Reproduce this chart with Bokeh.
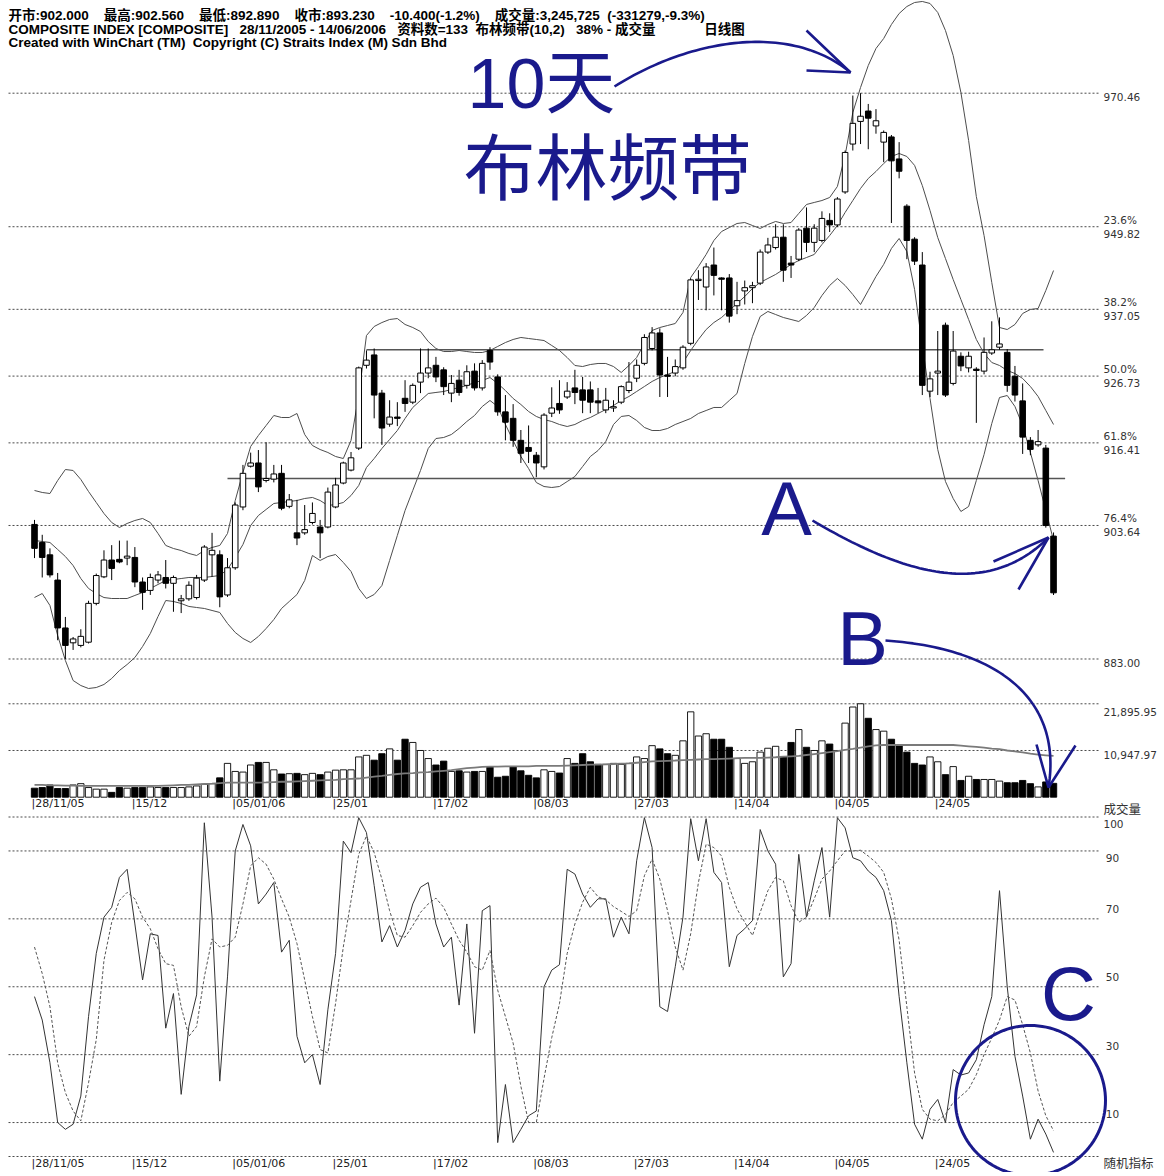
import math
from bokeh.plotting import figure
from bokeh.models import Range1d
from bokeh.core.properties import value
from bokeh.embed import file_html
from bokeh.resources import INLINE

# ---------------- data ----------------
tick_idx = [0, 13, 26, 39, 52, 65, 78, 91, 104, 117]
tick_labels = ["28/11/05", "15/12", "05/01/06", "25/01", "17/02", "08/03",
               "27/03", "14/04", "04/05", "24/05"]

opens = [903.8, 901.0, 899.1, 895.2, 887.8, 885.5, 885.1, 885.6, 891.6, 895.7,
         898.3, 898.4, 898.6, 898.7, 894.9, 893.6, 895.2, 895.6, 894.7, 892.0,
         892.3, 892.5, 895.2, 899.1, 899.1, 892.9, 897.1, 906.5, 912.8, 913.3,
         910.6, 910.8, 911.7, 906.6, 902.5, 902.5, 904.1, 903.4, 903.4, 906.5,
         910.2, 912.2, 915.6, 928.4, 930.0, 924.1, 919.3, 920.4, 923.3, 922.7,
         925.8, 927.2, 928.4, 927.7, 924.1, 926.1, 925.3, 927.5, 924.9, 930.7,
         926.6, 921.2, 920.2, 916.8, 915.7, 914.5, 912.7, 921.0, 922.5, 923.5,
         924.9, 924.6, 924.6, 922.9, 921.5, 921.8, 922.7, 924.5, 926.4, 928.7,
         931.0, 933.4, 926.9, 927.2, 928.0, 931.8, 941.5, 940.5, 943.9, 941.9,
         941.9, 937.6, 939.9, 940.4, 941.1, 945.9, 946.6, 948.2, 944.2, 944.8,
         949.6, 947.4, 947.7, 950.8, 950.1, 955.2, 962.6, 966.1, 967.7, 965.4,
         962.9, 963.7, 960.3, 953.0, 947.9, 943.9, 924.4, 927.2, 934.6, 925.6,
         929.8, 928.0, 927.8, 927.5, 930.3, 931.2, 930.4, 926.7, 922.9, 916.8,
         916.1, 915.6, 902.0]
highs = [904.5, 902.2, 900.1, 896.3, 889.5, 886.4, 887.6, 892.0, 896.2, 899.8,
         900.6, 901.3, 901.3, 900.3, 895.6, 896.2, 896.6, 898.3, 895.9, 892.9,
         895.0, 896.0, 900.6, 902.5, 899.8, 898.6, 907.2, 913.0, 914.9, 915.3,
         916.5, 913.0, 913.0, 908.5, 907.6, 906.8, 907.2, 904.5, 909.5, 911.0,
         913.5, 915.0, 928.2, 930.7, 931.0, 924.6, 923.0, 922.7, 926.1, 925.6,
         931.0, 931.0, 929.7, 928.1, 926.9, 927.7, 928.4, 928.7, 929.2, 931.2,
         927.0, 923.8, 922.4, 918.4, 919.1, 915.0, 921.0, 925.0, 926.1, 925.8,
         927.7, 926.6, 925.9, 924.9, 924.9, 923.0, 925.3, 928.9, 929.3, 933.2,
         934.3, 934.1, 929.7, 929.3, 931.5, 941.8, 943.1, 944.2, 946.6, 942.0,
         942.5, 941.3, 941.5, 941.3, 946.3, 948.1, 950.2, 950.2, 945.3, 949.6,
         952.8, 950.2, 952.2, 951.9, 954.4, 961.6, 970.1, 970.46, 968.8, 968.0,
         964.7, 964.0, 962.9, 953.3, 948.2, 945.9, 927.4, 933.7, 935.0, 933.7,
         930.4, 930.5, 928.1, 932.7, 935.2, 935.8, 930.9, 928.3, 925.6, 917.3,
         918.4, 916.1, 902.56]
lows = [898.6, 895.6, 895.6, 885.9, 883.0, 884.4, 884.8, 885.4, 891.3, 895.5,
        895.2, 897.8, 897.5, 894.1, 890.6, 892.9, 894.7, 893.9, 890.3, 890.1,
        892.0, 892.2, 894.9, 895.7, 891.0, 892.6, 896.8, 906.0, 912.6, 908.8,
        910.3, 910.3, 906.0, 906.3, 900.6, 902.2, 903.8, 898.6, 903.2, 906.3,
        910.0, 912.0, 915.3, 927.9, 920.2, 916.1, 918.9, 919.0, 921.2, 922.4,
        924.1, 926.4, 925.8, 923.8, 922.7, 923.7, 924.8, 924.5, 924.5, 927.7,
        920.6, 916.8, 915.8, 913.3, 913.3, 911.1, 912.3, 920.4, 920.9, 923.2,
        922.4, 921.0, 921.0, 921.0, 921.0, 921.2, 922.4, 924.1, 925.8, 928.4,
        930.7, 923.5, 923.5, 926.7, 927.7, 931.5, 938.5, 936.9, 939.2, 936.9,
        935.0, 936.3, 937.8, 938.0, 940.8, 945.6, 946.3, 941.3, 941.9, 944.5,
        945.9, 945.9, 947.4, 949.0, 949.8, 954.9, 961.6, 962.6, 961.8, 964.2,
        959.8, 950.4, 957.3, 944.8, 943.9, 923.8, 923.5, 923.8, 923.5, 925.3,
        927.5, 927.3, 919.5, 927.0, 930.0, 930.8, 924.3, 922.8, 914.7, 914.5,
        915.8, 903.3, 892.89]
closes = [900.1, 898.7, 896.0, 887.8, 885.1, 886.1, 886.5, 891.6, 895.9, 898.3,
          897.0, 898.0, 898.9, 894.9, 893.3, 895.6, 896.0, 894.7, 895.6, 892.3,
          894.4, 895.5, 900.3, 899.8, 892.6, 897.1, 906.8, 911.7, 913.3, 909.6,
          910.9, 911.6, 906.3, 907.6, 901.7, 903.0, 905.5, 902.5, 908.8, 909.9,
          913.3, 914.1, 928.0, 929.2, 923.8, 918.7, 920.4, 920.2, 922.5, 925.3,
          927.2, 928.0, 926.6, 925.1, 925.6, 924.2, 927.4, 924.9, 928.7, 928.9,
          921.2, 919.6, 916.8, 914.8, 915.1, 913.3, 920.7, 921.8, 921.5, 924.4,
          924.2, 923.0, 922.7, 922.6, 923.0, 922.0, 925.1, 925.8, 928.4, 932.7,
          933.4, 926.9, 926.7, 928.2, 931.2, 941.6, 941.7, 943.6, 942.3, 941.7,
          936.0, 938.4, 940.4, 940.7, 945.9, 947.0, 948.2, 943.1, 943.9, 949.3,
          947.4, 949.6, 951.1, 950.1, 954.1, 961.3, 965.8, 966.9, 966.6, 966.2,
          964.4, 960.0, 958.4, 947.7, 944.5, 925.3, 926.3, 927.5, 923.8, 930.6,
          928.3, 929.8, 927.6, 930.4, 930.8, 931.7, 925.3, 923.8, 917.3, 915.4,
          916.6, 903.63, 893.23]

volume = [2114, 2265, 2869, 2039, 2039, 2869, 3171, 2265, 1888, 1888,
          1133, 2265, 2114, 2265, 2265, 2416, 2265, 2265, 2265, 2265,
          2416, 2643, 3020, 3171, 4530, 7928, 6040, 5889, 7550, 8154,
          8154, 6418, 5436, 5512, 5587, 5285, 5587, 5285, 5889, 6342,
          6418, 6418, 9438, 9815, 8683, 10193, 11325, 8683, 13590, 12835,
          10948, 9060, 7550, 8456, 6040, 6191, 5889, 6040, 6040, 7173,
          4681, 4908, 7173, 6191, 5134, 4530, 6418, 6040, 5663, 9060,
          7928, 10193, 8305, 7701, 7701, 7928, 7701, 7928, 9438, 9060,
          12080, 11325, 10193, 9815, 13213, 20008, 14345, 14874, 13590, 13590,
          11703, 9060, 7928, 8305, 10570, 11476, 11929, 9438, 12835, 15855,
          11703, 10948, 13213, 12458, 10948, 17365, 21140, 21895, 18498, 15855,
          15478, 13590, 12231, 10570, 7928, 7550, 9438, 8305, 5285, 7173,
          3926, 4908, 4153, 4153, 4153, 3775, 3398, 3398, 3926, 3171,
          2416, 3577, 3246]
vol_ma = [2869, 2869, 2794, 2794, 2718, 2718, 2643, 2643, 2643, 2643,
          2643, 2643, 2643, 2643, 2643, 2643, 2643, 2718, 2794, 2869,
          2869, 3020, 3096, 3171, 3322, 3398, 3398, 3398, 3398, 3398,
          3473, 3549, 3624, 3624, 3700, 3775, 3851, 3926, 4002, 4077,
          4228, 4304, 4379, 4606, 4832, 4983, 5210, 5436, 5587, 5663,
          5814, 5889, 6040, 6191, 6342, 6569, 6795, 6946, 7097, 7173,
          7173, 7248, 7248, 7248, 7248, 7324, 7324, 7324, 7324, 7399,
          7475, 7550, 7626, 7626, 7701, 7777, 7852, 7928, 8079, 8230,
          8381, 8456, 8532, 8607, 8683, 8758, 8834, 8909, 8909, 8985,
          9060, 9136, 9211, 9211, 9211, 9287, 9362, 9513, 9589, 9664,
          9891, 10117, 10344, 10570, 10797, 11099, 11325, 11627, 11929, 12156,
          12231, 12231, 12231, 12231, 12231, 12231, 12231, 12231, 12231, 12231,
          12080, 11929, 11778, 11627, 11401, 11250, 10948, 10721, 10495, 10193,
          9966, 9815, 9664]

bb_upper = [909.05, 908.74, 908.58, 910.59, 912.29, 912.14, 910.75, 908.89, 907.19, 905.49,
            904.10, 903.33, 903.95, 904.41, 904.72, 904.10, 902.40, 900.55, 900.08, 899.77,
            899.31, 899.00, 899.77, 900.24, 900.55, 902.40, 907.50, 911.83, 915.85, 917.55,
            919.09, 920.64, 920.33, 920.33, 920.95, 917.70, 916.00, 915.38, 914.92, 914.30,
            913.99, 916.78, 923.73, 933.00, 934.40, 935.01, 935.48, 935.63, 934.71, 934.24,
            933.62, 932.08, 931.00, 930.53, 930.53, 930.69, 930.53, 930.38, 930.38, 930.69,
            931.31, 931.92, 932.39, 932.70, 932.54, 932.39, 932.23, 931.46, 930.69, 929.60,
            928.37, 928.21, 928.52, 928.68, 928.68, 928.21, 927.29, 928.37, 929.60, 931.77,
            933.78, 934.24, 934.55, 934.86, 936.56, 941.97, 943.67, 945.53, 947.69, 949.08,
            949.70, 950.32, 950.47, 950.01, 949.55, 950.16, 950.63, 950.32, 950.47, 951.87,
            953.26, 953.57, 953.87, 954.34, 956.04, 960.83, 967.48, 971.34, 974.74, 977.37,
            978.92, 981.08, 982.78, 983.86, 984.48, 984.64, 984.33, 982.94, 980.15, 976.29,
            970.57, 963.15, 954.49, 948.46, 941.20, 934.24, 933.93, 934.71, 936.41, 937.03,
            937.18, 939.96, 943.05]
bb_mid = [901.32, 901.16, 901.01, 899.93, 898.84, 897.45, 895.44, 893.90, 893.12, 892.50,
          892.35, 892.35, 892.35, 892.82, 893.28, 893.90, 894.52, 895.13, 895.29, 895.44,
          895.60, 895.60, 895.60, 895.75, 895.91, 896.84, 898.69, 900.70, 903.64, 905.18,
          906.11, 907.04, 907.19, 907.35, 907.50, 907.81, 907.97, 907.50, 906.73, 906.88,
          907.19, 908.27, 909.82, 912.60, 913.99, 915.54, 916.93, 918.32, 920.18, 921.88,
          922.96, 924.04, 924.20, 924.35, 924.66, 924.97, 925.28, 925.74, 926.05, 926.51,
          925.59, 924.50, 923.27, 922.34, 921.26, 920.49, 920.02, 919.71, 919.25, 918.94,
          919.25, 919.87, 920.33, 920.95, 921.57, 922.18, 922.96, 923.58, 924.35, 925.12,
          925.90, 926.51, 926.98, 927.44, 928.83, 930.69, 932.39, 933.93, 935.01, 935.79,
          936.87, 937.95, 939.03, 940.27, 941.20, 941.82, 942.44, 943.21, 943.98, 944.60,
          945.06, 945.53, 947.07, 948.46, 950.01, 952.02, 953.87, 955.73, 957.28, 958.36,
          959.59, 960.68, 961.14, 960.68, 959.30, 956.19, 952.33, 948.15, 944.91, 941.66,
          938.57, 935.48, 932.39, 930.22, 928.83, 928.37, 927.60, 927.13, 926.36, 925.12,
          923.58, 921.41, 919.25]
bb_lower = [892.51, 893.12, 891.27, 886.63, 882.77, 879.68, 878.90, 878.44, 878.59, 879.06,
            879.99, 881.22, 882.15, 883.23, 884.93, 886.94, 889.57, 892.04, 891.89, 891.58,
            891.12, 890.96, 890.81, 890.50, 890.19, 888.49, 887.10, 886.17, 885.55, 886.48,
            887.71, 889.10, 890.81, 891.89, 892.97, 895.13, 899.00, 898.23, 898.84, 899.15,
            897.92, 896.53, 893.90, 892.35, 892.97, 894.36, 898.23, 902.09, 905.95, 909.05,
            912.14, 915.54, 917.08, 917.24, 917.70, 918.63, 919.71, 920.64, 922.03, 922.96,
            922.03, 919.25, 916.78, 914.30, 912.45, 910.28, 909.66, 909.51, 909.66, 910.43,
            911.21, 912.75, 914.30, 915.23, 916.62, 919.25, 920.49, 920.64, 919.87, 918.79,
            918.32, 918.32, 918.63, 919.25, 919.71, 920.18, 920.95, 921.41, 921.88, 921.88,
            922.96, 924.04, 928.68, 932.85, 935.94, 936.72, 936.25, 935.79, 935.48, 935.17,
            936.10, 937.33, 939.19, 940.74, 941.82, 940.74, 939.34, 937.80, 939.96, 942.13,
            944.00, 946.45, 948.00, 945.99, 940.12, 931.46, 923.27, 915.38, 910.44, 907.81,
            905.80, 906.57, 910.59, 914.61, 919.40, 923.42, 923.73, 922.03, 919.09, 914.92,
            910.59, 905.95, 901.32]

stoch_k = [47.1, 40.2, 27.6, 10.0, 8.0, 9.5, 17.8, 41.2, 59.8, 70.5,
           73.4, 82.2, 84.6, 68.5, 52.0, 65.6, 65.1, 37.8, 48.0, 18.3,
           38.3, 47.6, 98.3, 70.5, 22.2, 52.9, 90.0, 97.8, 91.5, 74.4,
           77.3, 80.7, 60.2, 63.7, 35.4, 27.6, 30.0, 21.2, 43.2, 59.8,
           92.9, 89.5, 99.8, 95.4, 79.8, 63.2, 68.0, 61.7, 66.6, 74.4,
           79.3, 80.7, 68.5, 61.7, 64.6, 44.6, 68.5, 36.3, 72.4, 73.9,
           4.1, 21.2, 4.1, 8.0, 12.0, 13.4, 50.0, 54.9, 56.5, 84.6,
           83.2, 77.3, 73.4, 75.9, 75.9, 64.6, 70.5, 65.6, 87.1, 99.8,
           91.0, 44.1, 42.7, 55.9, 70.5, 99.5, 87.1, 99.5, 83.7, 80.7,
           55.9, 65.1, 67.1, 69.5, 96.3, 90.0, 86.1, 52.9, 56.8, 89.0,
           70.5, 81.2, 91.0, 70.5, 99.8, 96.8, 88.0, 87.1, 84.1, 82.2,
           78.3, 69.5, 47.1, 27.6, 9.5, 5.1, 13.9, 16.8, 10.0, 25.6,
           24.0, 24.6, 28.5, 38.8, 47.1, 78.3, 50.0, 29.5, 17.8, 5.1,
           11.0, 6.6, 1.2]
stoch_d = [61.7, 53.9, 44.1, 27.6, 18.8, 13.4, 10.5, 21.7, 34.4, 57.8,
           69.0, 75.4, 77.8, 75.9, 70.5, 67.1, 61.2, 56.8, 56.3, 44.1,
           35.4, 38.3, 52.9, 64.1, 61.7, 62.2, 64.6, 74.4, 85.6, 88.0,
           86.1, 81.7, 75.9, 70.5, 62.7, 52.0, 41.2, 31.5, 30.5, 45.1,
           61.7, 75.4, 89.0, 94.4, 89.5, 81.7, 72.4, 65.1, 64.6, 68.0,
           71.9, 74.4, 76.1, 73.4, 68.5, 63.7, 60.2, 55.9, 54.9, 60.7,
           49.0, 41.2, 33.4, 20.7, 10.0, 10.0, 23.0, 35.0, 45.0, 59.8,
           68.5, 74.9, 79.3, 76.5, 75.6, 73.6, 72.2, 70.7, 72.4, 82.7,
           87.6, 81.7, 72.4, 61.7, 54.9, 65.6, 80.7, 92.0, 91.0, 88.5,
           79.3, 72.9, 69.0, 65.1, 71.9, 78.3, 82.2, 81.2, 73.9, 69.0,
           70.5, 75.9, 81.7, 84.1, 87.1, 90.0, 90.0, 90.2, 88.5, 86.6,
           83.7, 75.9, 63.7, 44.1, 24.6, 13.9, 11.0, 10.5, 12.4, 15.9,
           17.8, 19.8, 24.1, 30.0, 34.9, 40.2, 47.1, 46.1, 38.8, 30.5,
           19.3, 12.0, 7.6]

price_levels = [970.46, 949.82, 937.05, 926.73, 916.41, 903.64, 883.00]
price_level_text = ["970.46", "949.82", "937.05", "926.73", "916.41", "903.64", "883.00"]
fib_pct_text = ["", "23.6%", "38.2%", "50.0%", "61.8%", "76.4%", ""]
support_levels = [930.8, 910.9]
support_from = [43, 25]
support_to = [130.7, 133.5]
vol_levels = [21895.95, 10947.97]
vol_level_text = ["21,895.95", "10,947.97"]
stoch_levels = [100, 90, 70, 50, 30, 10, 0]
stoch_label_levels = [90, 70, 50, 30, 10]

NB = "\u00a0"
header_lines = [
    "开市:902.000" + NB * 4 + "最高:902.560" + NB * 4 + "最低:892.890" + NB * 4 + "收市:893.230"
    + NB * 4 + "-10.400(-1.2%)" + NB * 4 + "成交量:3,245,725" + NB * 2 + "(-331279,-9.3%)",
    "COMPOSITE INDEX [COMPOSITE]" + NB * 3 + "28/11/2005 - 14/06/2006" + NB * 3 + "资料数=133"
    + NB * 2 + "布林频带(10,2)" + NB * 3 + "38% - 成交量" + NB * 13 + "日线图",
    "Created with WinChart (TM)" + NB * 2 + "Copyright (C) Straits Index (M) Sdn Bhd",
]

# ---------------- geometry (picture pixels -> data) ----------------
W, H = 1160, 1172
X0, DX = 34.0, 7.72


def fx(px):
    return (px - X0) / DX


def fp(py):
    return 984.79 - 0.15458 * py


def fv(py):
    return (796.7 - py) * 234.4


def fs(py):
    return (1156.0 - py) / 3.395


p = figure(width=W, height=H,
           x_range=Range1d(fx(0), fx(W)),
           y_range=Range1d(fp(H), fp(0)),
           output_backend="svg", toolbar_location=None,
           x_axis_location=None, y_axis_location=None,
           min_border=0, outline_line_color=None,
           background_fill_color="white", border_fill_color="white")
p.extra_y_ranges = {"vol": Range1d(fv(H), fv(0)),
                    "sto": Range1d(fs(H), fs(0))}
p.grid.visible = False

N = len(closes)
xs = list(range(N))
grid_x0, grid_x1 = fx(8), fx(1099)
DOT = "2 2"
GRID_COL = "#4a4a4a"

# dotted level lines
p.segment([grid_x0] * len(price_levels), price_levels, [grid_x1] * len(price_levels), price_levels,
          line_color=GRID_COL, line_dash=DOT, line_width=1)
p.segment([grid_x0] * len(vol_levels), vol_levels, [grid_x1] * len(vol_levels), vol_levels,
          line_color=GRID_COL, line_dash=DOT, line_width=1, y_range_name="vol")
p.segment([grid_x0] * len(stoch_levels), stoch_levels, [grid_x1] * len(stoch_levels), stoch_levels,
          line_color=GRID_COL, line_dash=DOT, line_width=1, y_range_name="sto")

# Bollinger bands
BAND_COL = "#4d4d4d"
p.line(xs, bb_upper, line_color=BAND_COL, line_width=1)
p.line(xs, bb_mid, line_color=BAND_COL, line_width=1)
p.line(xs, bb_lower, line_color=BAND_COL, line_width=1)

# support / resistance lines
p.segment(support_from, support_levels, support_to, support_levels,
          line_color="#555555", line_width=1.6)

# candlesticks
up = [c >= o for o, c in zip(opens, closes)]
fill = ["white" if u else "black" for u in up]
p.segment(xs, highs, xs, lows, line_color="black", line_width=1)
p.vbar(x=xs, width=0.72, top=[max(o, c) for o, c in zip(opens, closes)],
       bottom=[min(o, c) for o, c in zip(opens, closes)],
       fill_color=fill, line_color="black", line_width=1)

# volume
p.vbar(x=xs, width=0.82, top=volume, bottom=0, fill_color=fill, line_color="black",
       line_width=0.9, y_range_name="vol")
p.line(xs, vol_ma, line_color="#7a7a7a", line_width=1.8, y_range_name="vol")

# stochastic
p.line(xs, stoch_k, line_color="#333333", line_width=1, y_range_name="sto")
p.line(xs, stoch_d, line_color="#555555", line_width=1, line_dash="3 2", y_range_name="sto")

# ---------------- texts ----------------
LAB_FONT = value("DejaVu Sans")
LAB_COL = "#333333"
lx = fx(1103)

single = [i for i, t in enumerate(fib_pct_text) if not t]
double = [i for i, t in enumerate(fib_pct_text) if t]
p.text([lx] * len(single), [price_levels[i] for i in single], [price_level_text[i] for i in single],
       text_font=LAB_FONT, text_font_size=value("10.5px"), text_color=LAB_COL,
       text_baseline="middle", y_offset=4)
p.text([lx] * len(double), [price_levels[i] for i in double], [fib_pct_text[i] for i in double],
       text_font=LAB_FONT, text_font_size=value("10.5px"), text_color=LAB_COL,
       text_baseline="middle", y_offset=-7)
p.text([lx] * len(double), [price_levels[i] for i in double], [price_level_text[i] for i in double],
       text_font=LAB_FONT, text_font_size=value("10.5px"), text_color=LAB_COL,
       text_baseline="middle", y_offset=7)
p.text([lx] * 2, vol_levels, vol_level_text, text_font=LAB_FONT, text_font_size=value("10.5px"),
       text_color=LAB_COL, text_baseline="middle", y_offset=[8, 5], y_range_name="vol")
p.text([lx], [100], ["100"], text_font=LAB_FONT, text_font_size=value("10.5px"),
       text_color=LAB_COL, text_baseline="middle", y_offset=7, y_range_name="sto")
p.text([lx], [100], ["成交量"], text_font=value("Noto Sans CJK SC"), text_font_size=value("12.5px"),
       text_color=LAB_COL, text_baseline="middle", y_offset=-9, y_range_name="sto")
p.text([lx + 0.3] * len(stoch_label_levels), stoch_label_levels, [str(v) for v in stoch_label_levels],
       text_font=LAB_FONT, text_font_size=value("10.5px"), text_color=LAB_COL,
       text_baseline="middle", y_offset=[7, -10, -10, -9, -9], y_range_name="sto")
p.text([lx], [0], ["随机指标"], text_font=value("Noto Sans CJK SC"), text_font_size=value("12.5px"),
       text_color=LAB_COL, text_baseline="middle", y_offset=6, y_range_name="sto")

# date rows (below volume panel and below stochastic panel)
date_text = ["|" + t for t in tick_labels]
p.text(tick_idx, [fp(803)] * len(tick_idx), date_text, text_font=LAB_FONT,
       text_font_size=value("11px"), text_color="#222222", text_baseline="middle", x_offset=-3)
p.text(tick_idx, [fp(1163)] * len(tick_idx), date_text, text_font=LAB_FONT,
       text_font_size=value("11px"), text_color="#222222", text_baseline="middle", x_offset=-3)

# header
HDR_FONT = value("Liberation Sans, Noto Sans CJK SC")
p.text([fx(8)] * 3, [fp(15), fp(28.5), fp(42)], header_lines, text_font=HDR_FONT,
       text_font_size=value("13.5px"), text_font_style="bold", text_color="black",
       text_baseline="middle")

# ---------------- blue annotations ----------------
BLUE = "#1a1a8c"


def bez(p0, p1, p2, p3, n=60):
    bx, by = [], []
    for k in range(n + 1):
        t = k / n
        a, b, c, d = (1 - t) ** 3, 3 * (1 - t) ** 2 * t, 3 * (1 - t) * t ** 2, t ** 3
        bx.append(fx(a * p0[0] + b * p1[0] + c * p2[0] + d * p3[0]))
        by.append(fp(a * p0[1] + b * p1[1] + c * p2[1] + d * p3[1]))
    return bx, by


def poly(pts):
    return [fx(a) for a, _ in pts], [fp(b) for _, b in pts]


arrows = [
    ((614, 86), (690, 38), (790, 22), (850, 72)),
    ((812, 520), (900, 572), (985, 600), (1048, 537)),
    ((885, 640), (1000, 648), (1062, 700), (1048, 787)),
]
heads = [
    [(806, 30), (850, 72), (806, 70)],
    [(993, 561), (1048, 537), (1018, 589)],
    [(1036, 744), (1048, 787), (1075, 745)],
]
for a in arrows:
    bx, by = bez(*a)
    p.line(bx, by, line_color=BLUE, line_width=2.6)
for h in heads:
    hx, hy = poly(h)
    p.line(hx, hy, line_color=BLUE, line_width=2.6)

cx, cy, r = 1030, 1100, 75
circ = [(cx + r * math.cos(2 * math.pi * k / 120), cy + r * math.sin(2 * math.pi * k / 120)) for k in range(121)]
ccx, ccy = poly(circ)
p.line(ccx, ccy, line_color=BLUE, line_width=3)

p.text([fx(467)], [fp(83)], ["10天"], text_font=value("Liberation Sans, Noto Sans CJK SC"),
       text_font_size=value("70px"), text_color=BLUE, text_baseline="middle")
p.text([fx(463)], [fp(162)], ["布林频带"], text_font=value("Noto Sans CJK SC"),
       text_font_size=value("72px"), text_color=BLUE, text_baseline="middle")
p.text([fx(786), fx(862), fx(1068)], [fp(508), fp(638), fp(993)], ["A", "B", "C"],
       text_font=value("Liberation Sans"), text_font_size=value("76px"), text_color=BLUE,
       text_align="center", text_baseline="middle")

open("out.html", "w").write(file_html(p, INLINE))
